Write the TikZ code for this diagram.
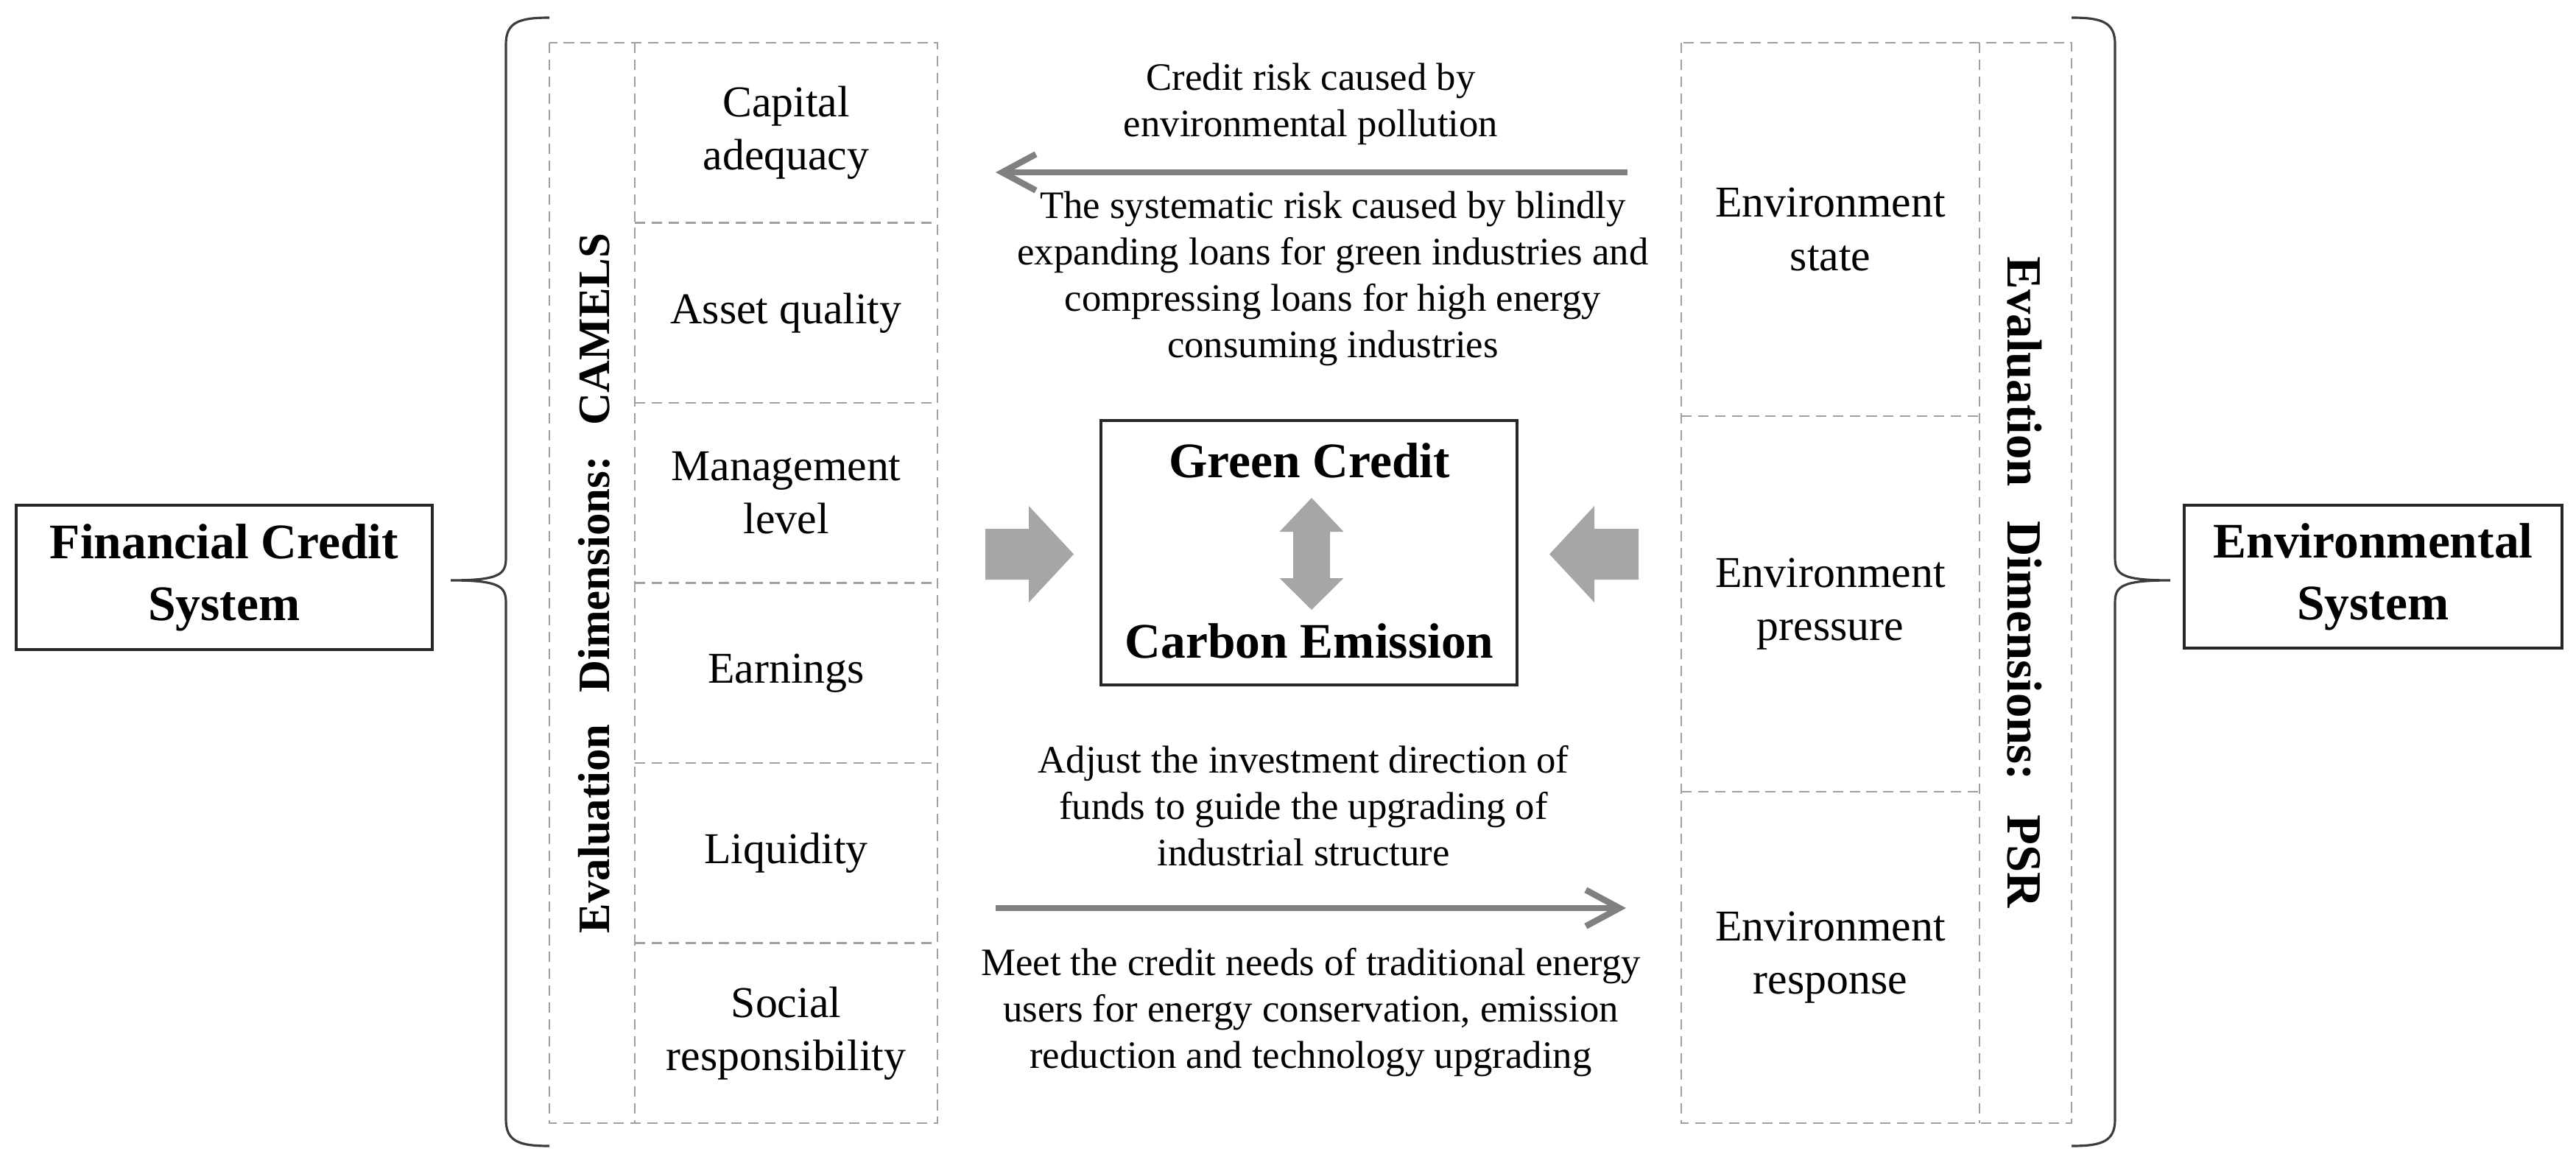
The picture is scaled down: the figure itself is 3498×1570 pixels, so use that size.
\documentclass[tikz,border=0pt]{standalone}
\usepackage{fontspec}
\setmainfont{Liberation Serif}
\usetikzlibrary{arrows.meta}
\definecolor{dashgray}{HTML}{A0A0A0}
\definecolor{arrowgray}{HTML}{808080}
\definecolor{blockgray}{HTML}{A6A6A6}
\definecolor{bracegray}{HTML}{3C3C3C}
\begin{document}
\begin{tikzpicture}[x=0.01cm,y=-0.01cm,
  cellgrid/.style={draw=dashgray, line width=0.8pt, dash pattern=on 4pt off 2.5pt},
  celltext/.style={font=\fontsize{17}{20.5}\selectfont, align=center, inner sep=0pt},
  lbl/.style={font=\fontsize{15}{17.9}\selectfont, align=center, inner sep=0pt},
  sysbox/.style={draw=black!85, line width=1pt, minimum width=5.65cm, minimum height=1.96cm, align=center, inner sep=0pt, font=\bfseries\fontsize{19.2}{23.9}\selectfont},
  boldtext/.style={font=\bfseries\fontsize{19.2}{23.9}\selectfont, inner sep=0pt},
  vlabel/.style={inner sep=0pt},
  bracestyle/.style={draw=bracegray, line width=0.9pt},
  flowarrow/.style={draw=arrowgray, line width=2.4pt, -{Straight Barb[length=13pt,width=14pt]}},
  blockarrow/.style={fill=blockgray}
]
\useasboundingbox (0,0) rectangle (3498,1570);

% ---- left dashed grid (CAMELS)
\draw[cellgrid] (746,58) rectangle (1273,1525);
\draw[cellgrid] (862,58) -- (862,1525);
\foreach \yy in {302.5,547,791.5,1036,1280.5} \draw[cellgrid] (862,\yy) -- (1273,\yy);

\node[celltext] (ca) at (1067.5,180.25) {Capital\\adequacy};
\node[celltext] (aq) at (1067.5,424.75) {Asset quality};
\node[celltext] (ml) at (1067.5,669.25) {Management\\level};
\node[celltext] (ea) at (1067.5,913.75) {Earnings};
\node[celltext] (lq) at (1067.5,1158.25) {Liquidity};
\node[celltext] (sr) at (1067.5,1402.75) {Social\\responsibility};

\node[vlabel, rotate=90, font=\bfseries\fontsize{17.3}{20}\selectfont] (camels) at (807,792) {Evaluation\hspace{0.7em}Dimensions:\hspace{0.7em}CAMELS};

% ---- right dashed grid (PSR)
\draw[cellgrid] (2283,58) rectangle (2813,1525);
\draw[cellgrid] (2688,58) -- (2688,1525);
\draw[cellgrid] (2283,565) -- (2688,565);
\draw[cellgrid] (2283,1075) -- (2688,1075);

\node[celltext] (es) at (2485.5,311.5) {Environment\\state};
\node[celltext] (ep) at (2485.5,820) {Environment\\pressure};
\node[celltext] (er) at (2485.5,1300) {Environment\\response};

\node[vlabel, rotate=-90, font=\bfseries\fontsize{19}{22}\selectfont] (psr) at (2749,791) {Evaluation\hspace{0.7em}Dimensions:\hspace{0.7em}PSR};

% ---- system boxes
\node[sysbox] (fin) at (304.5,784) {Financial Credit\\System};
\node[sysbox, minimum width=5.13cm, minimum height=1.94cm] (env) at (3222.5,783) {Environmental\\System};

% ---- braces
\draw[bracestyle] (746,24) .. controls (705,24) and (687,30) .. (687,60) -- (687,758)
  .. controls (687,780) and (678,788) .. (612,788)
  .. controls (678,788) and (687,796) .. (687,818) -- (687,1520)
  .. controls (687,1550) and (705,1556) .. (746,1556);
\draw[bracestyle] (2813,24) .. controls (2854,24) and (2872,30) .. (2872,60) -- (2872,758)
  .. controls (2872,780) and (2881,788) .. (2947,788)
  .. controls (2881,788) and (2872,796) .. (2872,818) -- (2872,1520)
  .. controls (2872,1550) and (2854,1556) .. (2813,1556);

% ---- central box
\node[draw=black!85, line width=1pt, minimum width=5.65cm, minimum height=3.59cm, inner sep=0pt] (core) at (1777.5,750.5) {};
\node[boldtext, anchor=base] (green) at (1778,648) {Green Credit};
\node[boldtext, anchor=base] (carbon) at (1778,893) {Carbon Emission};

\fill[blockarrow] (1781,676) -- (1824.5,722) -- (1806,722) -- (1806,785) -- (1824.5,785) -- (1781,828)
  -- (1737.5,785) -- (1756,785) -- (1756,722) -- (1737.5,722) -- cycle;

% ---- block arrows
\fill[blockarrow] (1338,718) -- (1397,718) -- (1397,687) -- (1458,752.5) -- (1397,818) -- (1397,787) -- (1338,787) -- cycle;
\fill[blockarrow] (2225,718) -- (2165,718) -- (2165,687) -- (2104,752.5) -- (2165,818) -- (2165,787) -- (2225,787) -- cycle;

% ---- flow arrows
\coordinate (topR) at (2210,234);
\coordinate (topL) at (1352,234);
\coordinate (botL) at (1352,1233);
\coordinate (botR) at (2208,1233);
\draw[flowarrow] (topR) -- (topL);
\draw[flowarrow] (botL) -- (botR);

% ---- labels
\node[lbl] (l1) at (1780,141) {Credit risk caused by\\environmental pollution};
\node[lbl] (l2) at (1810,378) {The systematic risk caused by blindly\\expanding loans for green industries and\\compressing loans for high energy\\consuming industries};
\node[lbl] (l3) at (1770,1094) {Adjust the investment direction of\\funds to guide the upgrading of\\industrial structure};
\node[lbl] (l4) at (1780,1375) {Meet the credit needs of traditional energy\\users for energy conservation, emission\\reduction and technology upgrading};
\end{tikzpicture}
\end{document}
